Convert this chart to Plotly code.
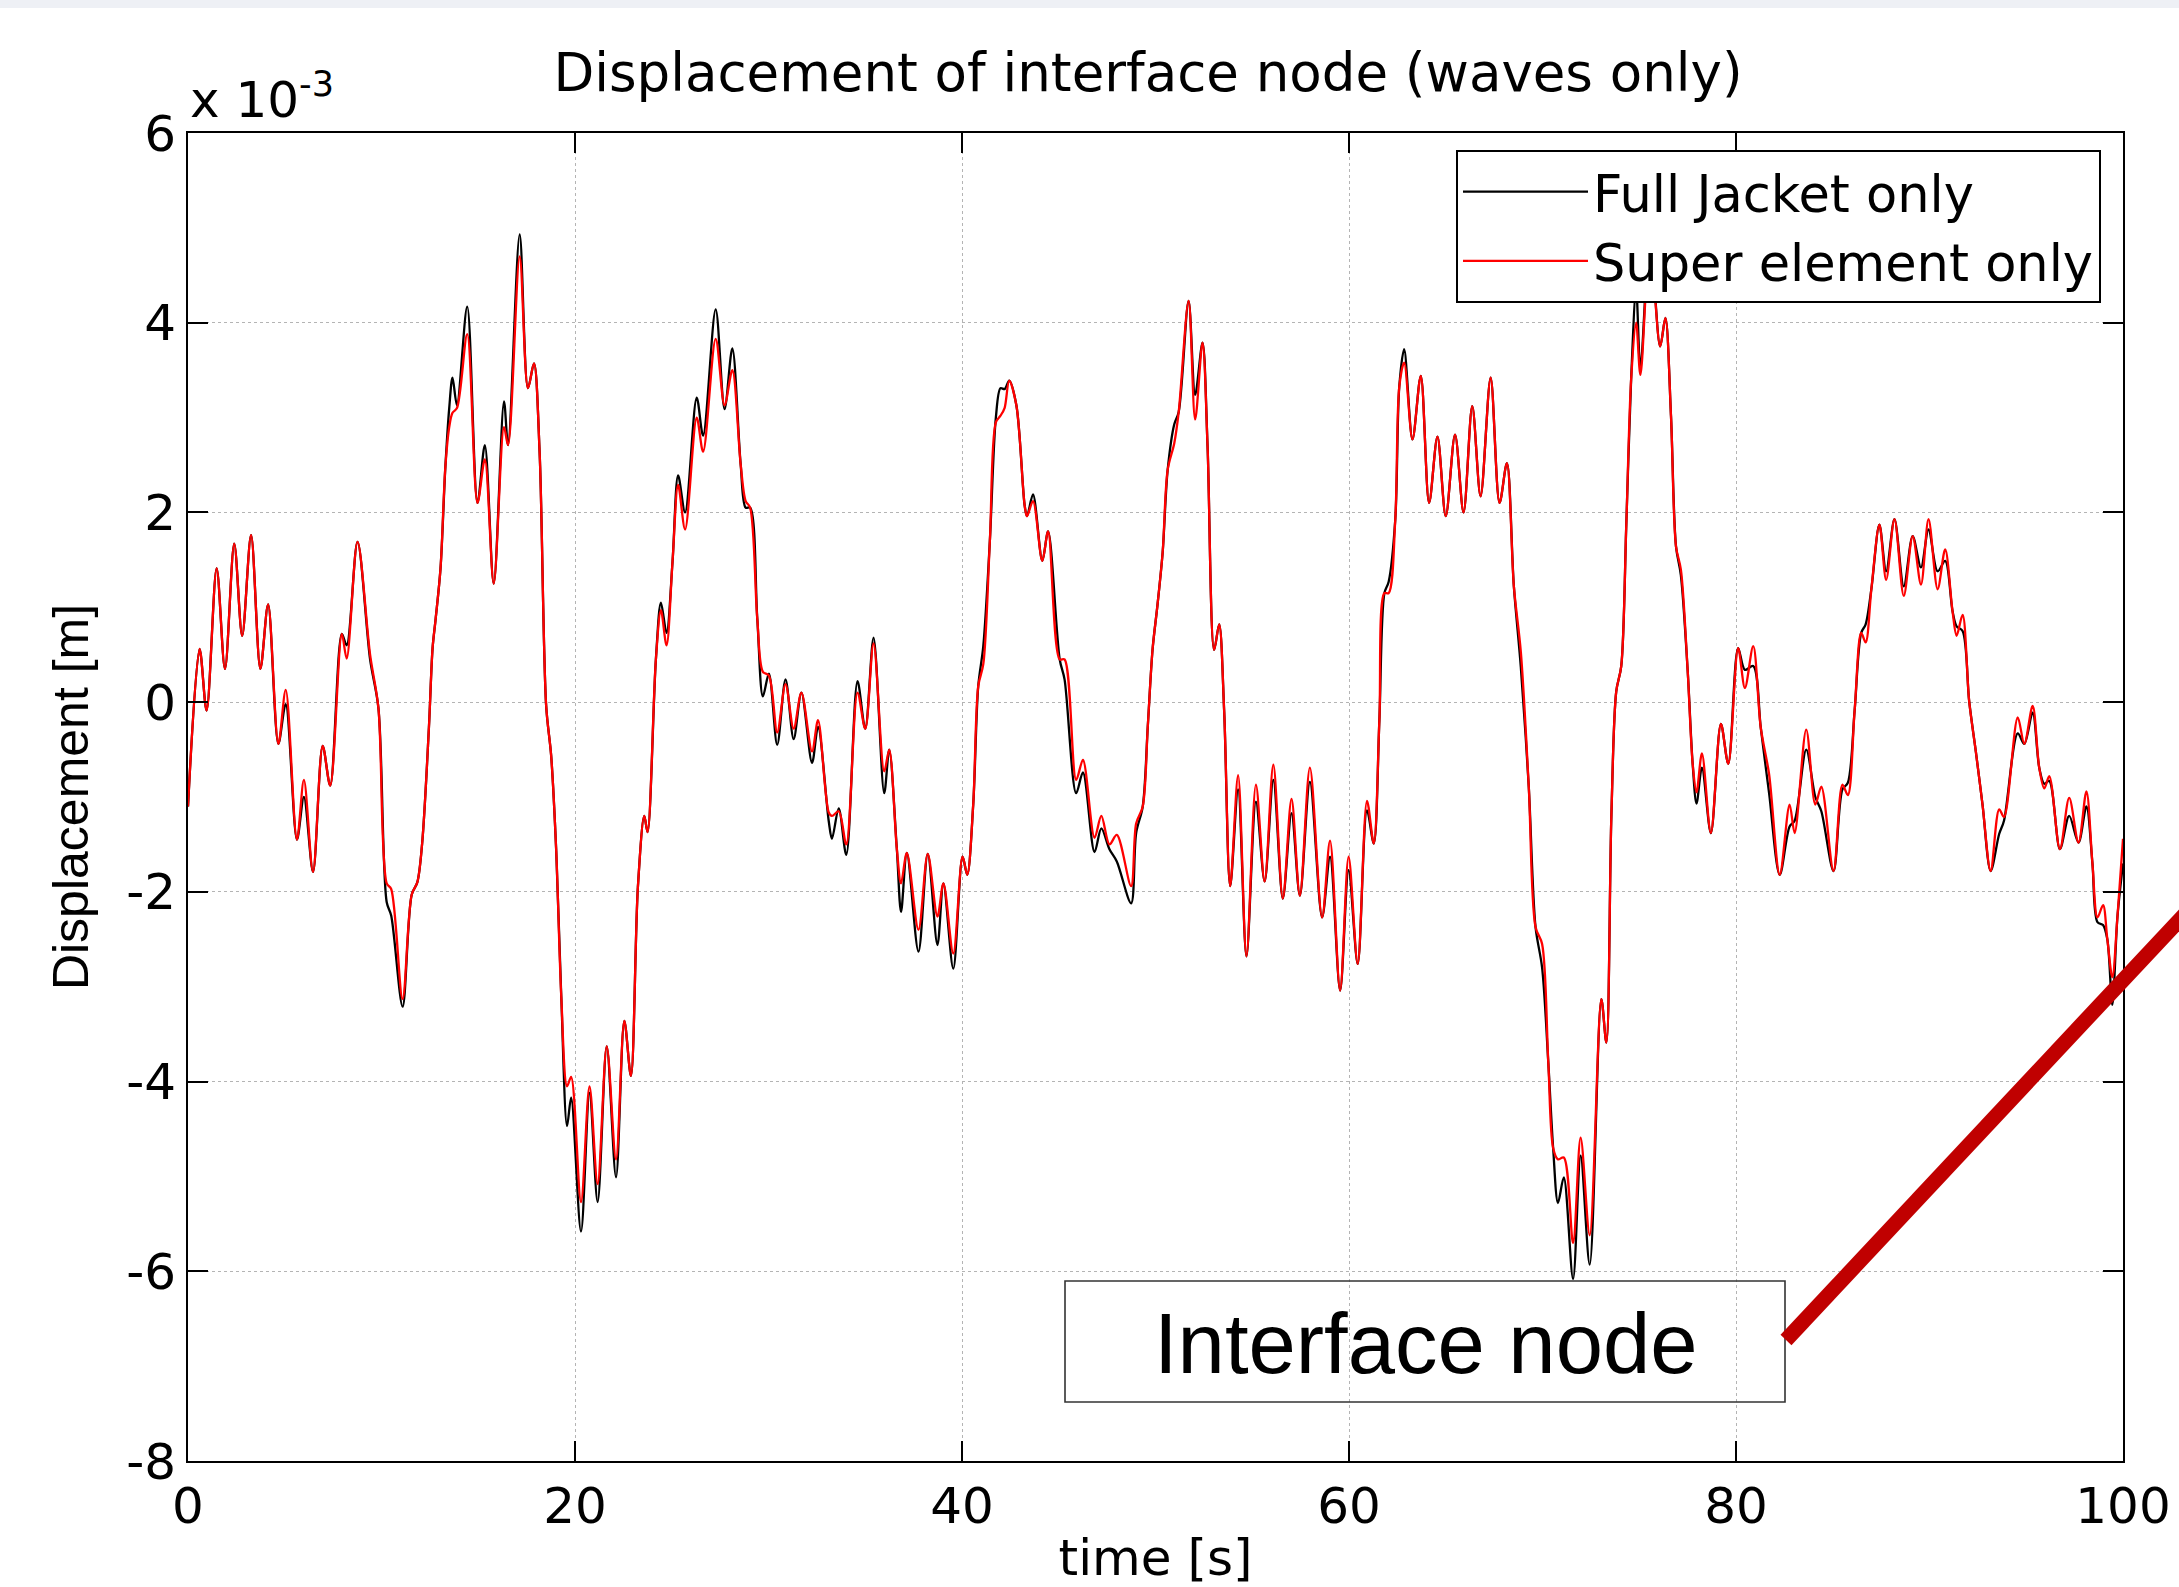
import plotly.graph_objects as go

# ---------------- data (displacement in units of 1e-3 m) ----------------
t_s = [
    0.00, 0.60, 0.96, 1.48, 1.91, 2.39, 2.80, 3.26, 3.74, 4.14,
    4.67, 5.05, 5.63, 5.99, 6.46, 6.96, 7.35, 7.95, 8.20, 8.76,
    9.41, 9.84, 10.27, 10.50, 11.09, 11.56, 11.85, 12.10, 12.45, 12.64,
    12.80, 13.05, 13.30, 13.50, 13.67, 13.90, 14.43, 14.96, 15.34, 15.80,
    16.33, 16.54, 17.14, 17.57, 17.88, 18.17, 18.51, 18.77, 19.03, 19.29,
    19.59, 19.80, 20.31, 20.75, 21.17, 21.64, 22.12, 22.55, 22.89, 23.25,
    23.58, 23.75, 24.18, 24.44, 24.73, 25.04, 25.33, 25.69, 26.29, 26.62,
    27.27, 27.73, 28.13, 28.56, 28.82, 29.05, 29.42, 29.71, 30.02, 30.45,
    30.88, 31.30, 31.70, 32.25, 32.56, 33.11, 33.28, 33.63, 34.02, 34.60,
    35.00, 35.43, 35.98, 36.24, 36.63, 36.85, 37.15, 37.75, 38.23, 38.73,
    39.04, 39.55, 40.03, 40.27, 40.58, 40.84, 41.10, 41.44, 41.75, 41.99,
    42.20, 42.44, 42.81, 43.24, 43.36, 43.67, 44.15, 44.45, 45.05, 45.30,
    45.90, 46.25, 46.85, 47.20, 47.62, 48.00, 48.74, 49.00, 49.34, 49.60,
    49.85, 50.10, 50.37, 50.63, 50.97, 51.20, 51.71, 52.05, 52.43, 52.69,
    53.03, 53.29, 53.55, 53.86, 54.27, 54.70, 55.19, 55.64, 56.09, 56.58,
    57.03, 57.46, 57.98, 58.61, 59.02, 59.54, 59.98, 60.45, 60.93, 61.28,
    61.57, 61.83, 62.05, 62.39, 62.60, 62.85, 63.28, 63.71, 64.14, 64.57,
    65.00, 65.48, 65.92, 66.37, 66.80, 67.32, 67.78, 68.16, 68.52, 68.88,
    69.29, 69.64, 69.98, 70.30, 70.55, 70.80, 71.10, 71.58, 71.97, 72.44,
    73.04, 73.30, 73.56, 73.81, 74.07, 74.33, 74.58, 74.84, 75.06, 75.55,
    76.08, 76.35, 76.64, 76.90, 77.15, 77.50, 77.76, 77.96, 78.24, 78.70,
    79.22, 79.60, 80.11, 80.46, 80.89, 81.28, 81.71, 82.26, 82.77, 83.03,
    83.63, 84.10, 84.41, 85.04, 85.50, 85.78, 86.13, 86.47, 86.70, 87.00,
    87.41, 87.76, 88.19, 88.67, 89.13, 89.56, 89.95, 90.42, 90.81, 91.19,
    91.40, 91.71, 92.05, 92.40, 92.74, 93.16, 93.60, 93.85, 94.56, 94.90,
    95.33, 95.67, 95.93, 96.19, 96.74, 97.22, 97.70, 98.11, 98.42, 98.68,
    98.97, 99.19, 99.45, 99.71, 100.00,
]

full_jacket = [
    -1.10, 0.56, -0.09, 1.41, 0.35, 1.67, 0.70, 1.76, 0.35, 1.03,
    -0.44, -0.02, -1.45, -1.00, -1.79, -0.46, -0.88, 0.72, 0.60, 1.69,
    0.45, -0.06, -2.11, -2.25, -3.21, -2.03, -1.90, -1.49, -0.27, 0.57,
    0.88, 1.41, 2.48, 3.10, 3.42, 3.13, 4.17, 2.10, 2.71, 1.25,
    3.17, 2.71, 4.93, 3.31, 3.57, 2.64, -0.04, -0.57, -1.57, -3.10,
    -4.47, -4.17, -5.58, -4.12, -5.27, -3.63, -5.01, -3.36, -3.94, -1.95,
    -1.20, -1.37, 0.45, 1.05, 0.73, 1.48, 2.39, 2.00, 3.21, 2.81,
    4.14, 3.09, 3.73, 2.51, 2.05, 2.05, 0.88, 0.06, 0.30, -0.45,
    0.24, -0.39, 0.10, -0.64, -0.26, -1.25, -1.44, -1.12, -1.61, 0.22,
    -0.28, 0.68, -0.96, -0.50, -1.54, -2.21, -1.59, -2.63, -1.60, -2.56,
    -1.91, -2.81, -1.63, -1.82, -1.08, 0.17, 0.59, 1.70, 3.00, 3.31,
    3.30, 3.39, 3.13, 2.07, 1.96, 2.19, 1.49, 1.80, 0.45, 0.24,
    -0.96, -0.74, -1.58, -1.33, -1.55, -1.68, -2.12, -1.38, -1.10, -0.26,
    0.56, 1.02, 1.58, 2.45, 2.93, 3.06, 4.23, 3.24, 3.79, 2.70,
    0.55, 0.82, -0.10, -1.94, -0.92, -2.68, -1.05, -1.89, -0.82, -2.07,
    -1.17, -2.04, -0.84, -2.27, -1.63, -3.04, -1.77, -2.76, -1.14, -1.49,
    -0.19, 1.15, 1.27, 1.92, 3.33, 3.72, 2.77, 3.44, 2.10, 2.80,
    1.96, 2.82, 2.00, 3.12, 2.17, 3.42, 2.10, 2.52, 1.22, 0.37,
    -0.89, -2.37, -2.80, -3.80, -4.70, -5.28, -5.01, -6.08, -4.78, -5.93,
    -3.13, -3.59, -1.19, 0.11, 0.38, 1.87, 3.40, 4.36, 3.52, 4.90,
    3.75, 4.05, 3.02, 1.64, 1.34, 0.34, -0.65, -1.07, -0.69, -1.38,
    -0.23, -0.65, 0.57, 0.34, 0.38, -0.27, -0.96, -1.82, -1.31, -1.25,
    -0.50, -1.00, -1.15, -1.78, -0.92, -0.85, -0.09, 0.73, 0.82, 1.20,
    1.87, 1.38, 1.93, 1.22, 1.75, 1.42, 1.82, 1.38, 1.49, 0.96,
    0.80, 0.75, 0.01, -0.53, -1.08, -1.78, -1.39, -1.25, -0.33, -0.44,
    -0.11, -0.69, -0.86, -0.83, -1.55, -1.20, -1.48, -1.10, -1.70, -2.32,
    -2.35, -2.50, -3.19, -2.27, -1.70,
]

super_element = [
    -1.10, 0.56, -0.09, 1.41, 0.35, 1.67, 0.70, 1.76, 0.35, 1.03,
    -0.44, 0.13, -1.45, -0.82, -1.79, -0.46, -0.88, 0.72, 0.46, 1.69,
    0.50, -0.06, -1.91, -1.97, -3.13, -2.03, -1.90, -1.49, -0.27, 0.57,
    0.88, 1.41, 2.48, 2.90, 3.05, 3.10, 3.88, 2.10, 2.56, 1.25,
    2.90, 2.71, 4.70, 3.31, 3.57, 2.64, -0.04, -0.57, -1.57, -3.10,
    -4.05, -3.95, -5.27, -4.05, -5.08, -3.63, -4.82, -3.36, -3.94, -1.95,
    -1.20, -1.37, 0.45, 0.97, 0.60, 1.48, 2.29, 1.82, 3.00, 2.64,
    3.83, 3.13, 3.50, 2.51, 2.12, 2.05, 0.88, 0.32, 0.28, -0.32,
    0.19, -0.28, 0.10, -0.52, -0.19, -1.16, -1.20, -1.15, -1.50, 0.10,
    -0.28, 0.62, -0.73, -0.50, -1.54, -1.91, -1.59, -2.40, -1.60, -2.26,
    -1.91, -2.65, -1.63, -1.82, -1.08, 0.17, 0.40, 1.70, 2.95, 3.02,
    3.10, 3.39, 3.13, 2.07, 1.96, 2.12, 1.49, 1.80, 0.45, 0.45,
    -0.82, -0.61, -1.43, -1.20, -1.50, -1.40, -1.94, -1.28, -1.10, -0.26,
    0.56, 1.02, 1.58, 2.45, 2.73, 3.06, 4.23, 2.98, 3.79, 2.70,
    0.55, 0.82, -0.10, -1.94, -0.77, -2.68, -0.87, -1.89, -0.66, -2.07,
    -1.02, -2.04, -0.69, -2.27, -1.46, -3.04, -1.63, -2.76, -1.04, -1.49,
    -0.19, 1.15, 1.15, 1.92, 3.33, 3.58, 2.77, 3.44, 2.10, 2.80,
    1.96, 2.82, 2.00, 3.12, 2.17, 3.42, 2.10, 2.52, 1.22, 0.53,
    -0.89, -2.37, -2.55, -3.80, -4.70, -4.82, -4.80, -5.70, -4.59, -5.62,
    -3.13, -3.59, -1.19, 0.11, 0.38, 1.87, 3.40, 4.00, 3.45, 4.85,
    3.75, 4.05, 3.02, 1.64, 1.40, 0.34, -0.65, -0.95, -0.54, -1.38,
    -0.23, -0.65, 0.57, 0.15, 0.59, -0.27, -0.76, -1.82, -1.08, -1.38,
    -0.29, -1.08, -0.89, -1.78, -0.87, -0.98, -0.09, 0.73, 0.63, 1.20,
    1.87, 1.29, 1.93, 1.12, 1.75, 1.24, 1.93, 1.19, 1.61, 0.96,
    0.70, 0.92, 0.01, -0.53, -1.08, -1.78, -1.13, -1.21, -0.16, -0.44,
    -0.04, -0.69, -0.91, -0.78, -1.55, -1.01, -1.48, -0.94, -1.70, -2.27,
    -2.14, -2.50, -2.90, -2.27, -1.44,
]

x_tick_vals = [0, 20, 40, 60, 80, 100]
x_tick_labels = ["0", "20", "40", "60", "80", "100"]
y_tick_vals = [-8, -6, -4, -2, 0, 2, 4, 6]
y_tick_labels = ["-8", "-6", "-4", "-2", "0", "2", "4", "6"]

series_names = ["Full Jacket only", "Super element only"]
title_text = "Displacement of interface node (waves only)"
x_title = "time [s]"
y_title = "Displacement [m]"
callout_text = "Interface node"

assert len(t_s) == len(full_jacket) == len(super_element)

# ---------------- layout geometry (pixels) ----------------
W, H = 2179, 1587
PL, PR, PT, PB = 188, 2123, 133, 1461


def px_x(x):
    return (x - PL) / (PR - PL)


def px_y(y):
    return (PB - y) / (PB - PT)


FONT_M = "DejaVu Sans"
FONT_A = "Liberation Sans, Arial, sans-serif"

fig = go.Figure()
fig.add_trace(go.Scatter(
    x=t_s, y=full_jacket, mode="lines", name=series_names[0],
    line=dict(color="#000000", width=2.3, shape="spline", smoothing=0.9),
))
fig.add_trace(go.Scatter(
    x=t_s, y=super_element, mode="lines", name=series_names[1],
    line=dict(color="#ff0000", width=2.3, shape="spline", smoothing=0.9),
))

axis_common = dict(
    ticks="inside", ticklen=20, tickwidth=2, tickcolor="black",
    showline=True, linecolor="black", linewidth=2, mirror="ticks",
    showgrid=True, gridcolor="#b4b4b4", gridwidth=1.2, griddash="dot",
    zeroline=False, automargin=False,
    tickfont=dict(family=FONT_M, size=50, color="black"),
)

fig.update_layout(
    width=W, height=H,
    margin=dict(l=PL, r=W - PR, t=PT, b=H - PB, pad=0),
    paper_bgcolor="white", plot_bgcolor="white",
    showlegend=True,
    title=dict(
        text=title_text, xref="container", yref="container",
        x=1148 / W, y=1 - 72 / H, xanchor="center", yanchor="middle",
        font=dict(family=FONT_M, size=53, color="black"),
    ),
    xaxis=dict(
        range=[0, 100], tickvals=x_tick_vals, ticktext=x_tick_labels,
        title=dict(text=x_title, standoff=8,
                   font=dict(family=FONT_M, size=50, color="black")),
        **axis_common,
    ),
    yaxis=dict(
        range=[-8, 6], tickvals=y_tick_vals, ticktext=y_tick_labels,
        title=dict(text=y_title, standoff=22,
                   font=dict(family=FONT_A, size=50, color="black")),
        **axis_common,
    ),
    legend=dict(
        x=px_x(2101), y=px_y(150), xanchor="right", yanchor="top",
        bgcolor="white", bordercolor="black", borderwidth=2,
        font=dict(family=FONT_M, size=51, color="black"),
        itemwidth=125, tracegroupgap=0,
    ),
)

# exponent label above the y axis
fig.add_annotation(
    text="x 10<sup>-3</sup>", xref="paper", yref="paper",
    x=0, y=1, xanchor="left", yanchor="bottom", yshift=2, showarrow=False,
    font=dict(family=FONT_M, size=50, color="black"),
)

# light band at the very top of the page
fig.add_shape(type="rect", xref="paper", yref="paper",
              x0=px_x(0), x1=px_x(W), y0=px_y(8), y1=px_y(0),
              line=dict(width=0), fillcolor="#eef0f5", layer="below")

# callout box + text
fig.add_shape(type="rect", xref="paper", yref="paper",
              x0=px_x(1065), x1=px_x(1785), y0=px_y(1402), y1=px_y(1281),
              line=dict(color="#333333", width=1.6), fillcolor="rgba(0,0,0,0)",
              layer="above")
fig.add_annotation(
    text=callout_text, xref="paper", yref="paper",
    x=px_x(1425), y=px_y(1343), xanchor="center", yanchor="middle",
    showarrow=False, font=dict(family=FONT_A, size=85, color="black"),
)

# thick dark-red pointer line
fig.add_shape(type="line", xref="paper", yref="paper",
              x0=px_x(1786), y0=px_y(1340), x1=px_x(2200), y1=px_y(898),
              line=dict(color="#c00000", width=15), layer="above")

fig.write_html(
    "out.html",
    config={"displayModeBar": False},
    post_script="document.body.style.margin='0';document.body.style.overflow='hidden';",
)
